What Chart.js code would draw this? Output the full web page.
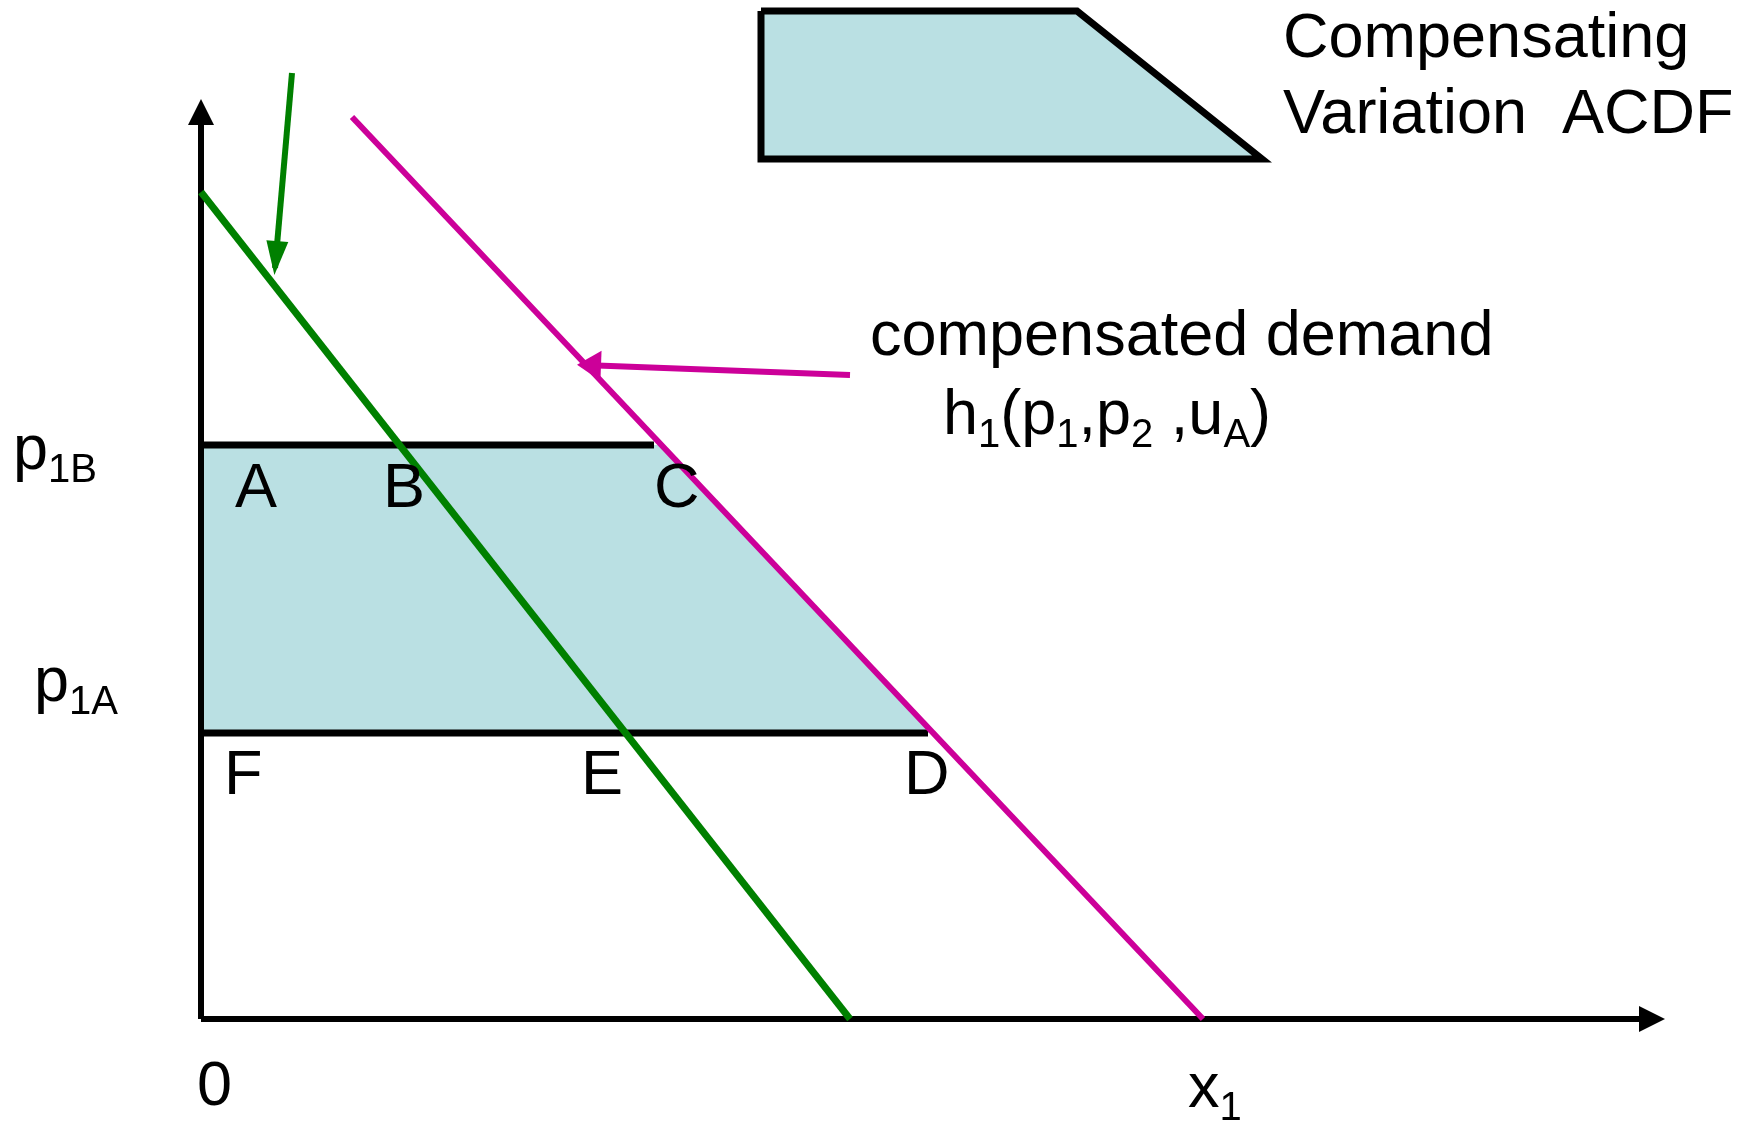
<!DOCTYPE html>
<html>
<head>
<meta charset="utf-8">
<script src="https://cdn.jsdelivr.net/npm/chart.js@4.4.1/dist/chart.umd.min.js"></script>
<style>
  html, body { margin: 0; padding: 0; background: #fff; }
  canvas { display: block; }
</style>
</head>
<body>
<canvas id="cvChart" width="1754" height="1125"></canvas>
<script>
// price levels (p1 axis)
const p1B = 5.74;
const p1A = 2.86;

// ordinary demand (green) and compensated demand h1(p1,p2,uA) (magenta)
const ordinaryX = [0, 6.49];
const ordinaryY = [8.27, 0];
const compensatedX = [1.51, 10.02];
const compensatedY = [9.02, 0];

// compensating variation area A-C-D-F
const cvX = [0, 4.58, 7.30, 0];
const cvY = [p1B, p1B, p1A, p1A];

// ends of the two horizontal price lines
const priceLineEndX = [4.53, 7.27];

// axes
const axisXEnd = 14.57;
const axisYEnd = 9.13;

// pointer arrows
const greenArrowX = [0.91, 0.74];
const greenArrowY = [9.46, 7.51];
const magentaArrowX = [6.49, 3.83];
const magentaArrowY = [6.44, 6.54];

// legend swatch
const legendX = [5.60, 8.76, 10.61, 5.60];
const legendY = [10.08, 10.08, 8.60, 8.60];

const fillColor = '#bae0e3';
const green = '#008000';
const magenta = '#cc0099';

function pts(xs, ys, close) {
    let out = xs.map((x, i) => ({ x: x, y: ys[i] }));
    if (close) out.push({ x: xs[0], y: ys[0] });
    return out;
}

function lineSet(data, color, width, order, extra) {
    return Object.assign({
        data: data,
        showLine: true,
        borderColor: color,
        borderWidth: width,
        pointRadius: 0,
        fill: false,
        order: order,
    }, extra || {});
}

let datasets = [
    lineSet(pts(cvX, cvY, true), 'rgba(0,0,0,0)', 1, 20, { fill: 'shape', backgroundColor: fillColor }),
    lineSet(pts(legendX, legendY, true), '#000', 7, 19, { fill: 'shape', backgroundColor: fillColor }),
    lineSet([{ x: 0, y: p1B }, { x: priceLineEndX[0], y: p1B }], '#000', 7, 5),
    lineSet([{ x: 0, y: p1A }, { x: priceLineEndX[1], y: p1A }], '#000', 7, 5),
    lineSet([{ x: 0, y: 0 }, { x: axisXEnd, y: 0 }], '#000', 6, 4, { arrow: [26, 26] }),
    lineSet([{ x: 0, y: 0 }, { x: 0, y: axisYEnd }], '#000', 6, 4, { arrow: [26, 26] }),
    lineSet(pts(ordinaryX, ordinaryY), green, 7, 2),
    lineSet(pts(compensatedX, compensatedY), magenta, 6, 1),
    lineSet(pts(greenArrowX, greenArrowY), green, 6, 2, { arrow: [34, 22] }),
    lineSet(pts(magentaArrowX, magentaArrowY), magenta, 6, 1, { arrow: [24, 30] }),
];

// arrowheads at the last point of flagged datasets
const arrowPlugin = {
    id: 'arrows',
    afterDatasetsDraw(chart) {
        let ctx = chart.ctx;
        chart.data.datasets.forEach((ds, i) => {
            if (!ds.arrow) return;
            let meta = chart.getDatasetMeta(i);
            let n = meta.data.length;
            let a = meta.data[n - 2], b = meta.data[n - 1];
            let ang = Math.atan2(b.y - a.y, b.x - a.x);
            let len = ds.arrow[0], w = ds.arrow[1];
            let tx = b.x + Math.cos(ang) * 7, ty = b.y + Math.sin(ang) * 7;
            ctx.save();
            ctx.translate(tx, ty);
            ctx.rotate(ang);
            ctx.beginPath();
            ctx.moveTo(0, 0);
            ctx.lineTo(-len, -w / 2);
            ctx.lineTo(-len, w / 2);
            ctx.closePath();
            ctx.fillStyle = ds.borderColor;
            ctx.fill();
            ctx.restore();
        });
    }
};

// text labels: [dataX, dataY, dx, dy, parts]
const BIG = 63, SMALL = 40;
const labels = [
    [5.60, 10.08, 522, 46, [['Compensating']]],
    [5.60, 10.08, 522, 122, [['Variation  ACDF']]],
    [6.49, 6.44, 20, -20, [['compensated demand']]],
    [6.49, 6.44, 93, 59, [['h'], ['1', 1], ['(p'], ['1', 1], [',p'], ['2', 1], [' ,u'], ['A', 1], [')']]],
    [0, p1B, -188, 24, [['p'], ['1B', 1]]],
    [0, p1A, -167, -32, [['p'], ['1A', 1]]],
    [0, p1B, 34, 62, [['A']]],
    [0, p1B, 182, 62, [['B']]],
    [0, p1B, 453, 62, [['C']]],
    [0, p1A, 23, 61, [['F']]],
    [0, p1A, 380, 61, [['E']]],
    [0, p1A, 703, 61, [['D']]],
    [0, 0, -4, 86, [['0']]],
    [0, 0, 987, 88, [['x'], ['1', 1]]],
];

const textPlugin = {
    id: 'texts',
    afterDraw(chart) {
        let ctx = chart.ctx;
        let sx = chart.scales.x, sy = chart.scales.y;
        ctx.save();
        ctx.fillStyle = '#000';
        ctx.textBaseline = 'alphabetic';
        ctx.textAlign = 'left';
        labels.forEach(l => {
            let x = sx.getPixelForValue(l[0]) + l[2];
            let y = sy.getPixelForValue(l[1]) + l[3];
            l[4].forEach(p => {
                let sub = p[1] === 1;
                ctx.font = (sub ? SMALL : BIG) + 'px "Liberation Sans", Arial, sans-serif';
                ctx.fillText(p[0], x, sub ? y + 13 : y);
                x += ctx.measureText(p[0]).width;
            });
        });
        ctx.restore();
    }
};

new Chart(document.getElementById('cvChart'), {
    type: 'scatter',
    data: { datasets: datasets },
    options: {
        responsive: false,
        animation: false,
        events: [],
        layout: { padding: 0 },
        plugins: {
            legend: { display: false },
            tooltip: { enabled: false },
        },
        scales: {
            x: { type: 'linear', display: false, min: -2.01, max: 15.53 },
            y: { type: 'linear', display: false, min: -1.06, max: 10.19 },
        },
    },
    plugins: [arrowPlugin, textPlugin],
});
</script>
</body>
</html>
